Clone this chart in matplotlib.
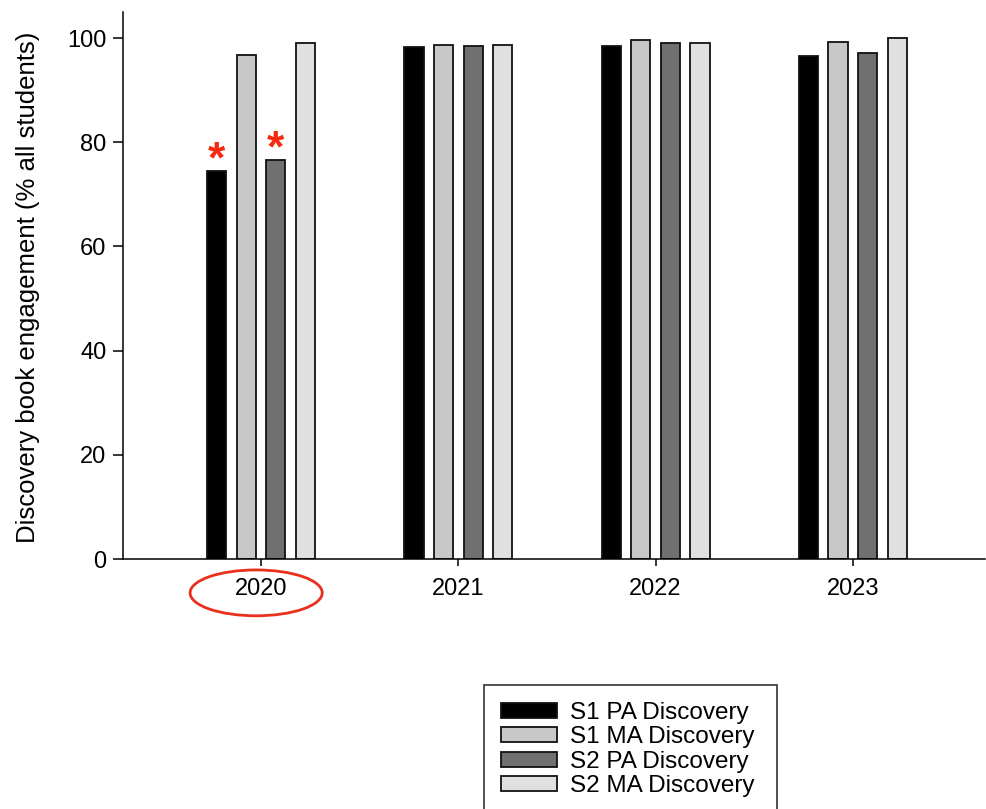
import matplotlib
matplotlib.use("Agg")
import matplotlib.pyplot as plt
from matplotlib.patches import Ellipse
import numpy as np

plt.rcParams['font.family'] = ['Liberation Sans', 'DejaVu Sans']

years = ["2020", "2021", "2022", "2023"]
series_names = ["S1 PA Discovery", "S1 MA Discovery", "S2 PA Discovery", "S2 MA Discovery"]
s1_pa = [74.5, 98.2, 98.4, 96.6]
s1_ma = [96.7, 98.7, 99.7, 99.2]
s2_pa = [76.5, 98.5, 99.0, 97.2]
s2_ma = [99.0, 98.7, 99.0, 100.0]
colors = ["#000000", "#c8c8c8", "#707070", "#e0e0e0"]
# bars flagged with a significance marker: (series index, year index)
flagged = [(0, 0), (2, 0)]

W, H = 986, 809
fig = plt.figure(figsize=(W / 100, H / 100), dpi=100)
ax = fig.add_axes([123 / W, 1 - 559 / H, (985 - 123) / W, (559 - 12) / H])

x = np.arange(len(years))
pitch = 0.150
width = 0.097
values = [s1_pa, s1_ma, s2_pa, s2_ma]
bars = []
for i, (vals, col, name) in enumerate(zip(values, colors, series_names)):
    b = ax.bar(x + (i - 1.5) * pitch, vals, width, color=col,
               edgecolor="#111111", linewidth=1.3, label=name)
    bars.append(b)

for si, yi in flagged:
    ax.text(x[yi] + (si - 1.5) * pitch, values[si][yi] - 0.2, "*",
            color="#f52a10", fontsize=32, fontweight="bold",
            ha="center", va="baseline")

ax.set_xlim(-0.70, 3.67)
ax.set_ylim(0, 105)
ax.set_yticks([0, 20, 40, 60, 80, 100])
ax.set_xticks(x)
ax.set_xticklabels(years)
for s in ["top", "right"]:
    ax.spines[s].set_visible(False)
for s in ["left", "bottom"]:
    ax.spines[s].set_linewidth(1.1)
ax.tick_params(axis="y", direction="out", length=7, width=1.1, labelsize=17, pad=5)
ax.tick_params(axis="x", direction="out", length=5, width=1.1, labelsize=17, pad=9)

fig.text(28 / W, 1 - 287 / H, "Discovery book engagement (% all students)",
         rotation=90, ha="center", va="center", fontsize=18.5)

# highlight ring around the first year label
ring = Ellipse((-0.025, -6.5), 0.67, 8.8, fill=False, edgecolor="#e8301c",
               linewidth=2, clip_on=False)
ax.add_patch(ring)

leg_left, leg_top, leg_right = 484 / W, 1 - 685 / H, 777 / W
leg = fig.legend(handles=bars, labels=series_names, loc="upper left",
                 bbox_to_anchor=(leg_left, leg_top - 0.2, leg_right - leg_left, 0.2),
                 mode="expand", fontsize=17.5,
                 frameon=True, fancybox=False, edgecolor="#000000",
                 borderpad=0.7, handlelength=2.3, handleheight=0.58,
                 handletextpad=0.55, labelspacing=0.1, borderaxespad=0)
leg.get_frame().set_linewidth(1.2)

fig.savefig("out.png", dpi=100)
